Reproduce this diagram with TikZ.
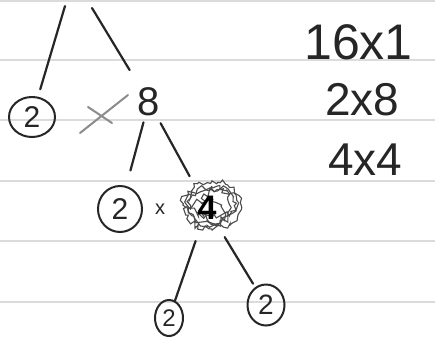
\documentclass[tikz,border=0pt]{standalone}
\usepackage{fontspec}
\setmainfont{Liberation Sans}
\usetikzlibrary{calc,shapes.geometric,decorations.pathmorphing}
\begin{document}
\begin{tikzpicture}[x=1pt,y=-1pt,
  pen/.style={line width=2.2pt,black!85,line cap=round},
  ruled/.style={line width=1.2pt,black!14},
  circled/.style={ellipse,draw,line width=2pt,black!85,inner sep=0pt,minimum width=46pt,minimum height=40pt,font=\fontsize{30}{30}\selectfont},
  num/.style={inner sep=0pt,font=\fontsize{40}{40}\selectfont,text=black!85},
  side/.style={inner sep=0pt,anchor=west,text=black!85},
  scrib/.style={line width=1.1pt,black!70,decoration={random steps,segment length=#1,amplitude=#1},decorate}]
\useasboundingbox (0,0) rectangle (435,338);
\fill[white] (0,0) rectangle (435,338);
% ruled paper lines
\foreach \yy in {1,60,120,181,241,302}
  \draw[ruled] (0,\yy) -- (435,\yy);
% nodes
\coordinate (t1) at (65,6);
\coordinate (t2) at (92,8);
\coordinate (s4) at (207,208);
\node[circled] (c1) at (32,117) {2};
\node[num] (n8) at (149,102) {8};
\node[circled,minimum width=44pt,minimum height=46pt] (c2) at (120,209) {2};
\node[inner sep=0pt,font=\fontsize{20}{20}\selectfont,text=black!85] (x2) at (160,209) {x};
% scribble over the 4
\pgfmathsetseed{7}
\draw[scrib=3pt] ($(s4)+(5,-3)$) ellipse (29pt and 24pt);
\draw[scrib=4pt] ($(s4)+(4,-2)$) ellipse (23pt and 18pt);
\draw[scrib=3pt] ($(s4)+(6,-6)$) ellipse (25pt and 14pt);
\draw[scrib=4pt] ($(s4)+(0,5)$) ellipse (18pt and 12pt);
\draw[scrib=3pt] ($(s4)+(10,-1)$) ellipse (14pt and 17pt);
\node[num,font=\bfseries\fontsize{34}{34}\selectfont,text=black] (n4) at (s4) {4};
\node[circled,minimum width=28pt,minimum height=36pt,font=\fontsize{24}{24}\selectfont] (c3) at (169,318) {2};
\node[circled,minimum width=37pt,minimum height=41pt,font=\fontsize{28}{28}\selectfont] (c4) at (266,305) {2};
% gray cross
\node[inner sep=0pt] (gx) at (104,114) {};
\draw[line width=2pt,black!45,line cap=round] ($(gx)+(-24,19)$) -- ($(gx)+(24,-19)$);
\draw[line width=2pt,black!45,line cap=round] ($(gx)+(-16,-7)$) -- ($(gx)+(8,9)$);
% connectors
\draw[pen] (t1) -- ($(t1)!0.75!(c1)$);
\draw[pen] (t2) -- ($(t2)!0.66!(n8)$);
\draw[pen] ($(n8)!0.19!(c2)$) -- ($(n8)!0.64!(c2)$);
\draw[pen] ($(n8)!0.2!(n4)$) -- ($(n8)!0.7!(n4)$);
\draw[pen] ($(n4)!0.3!(c3)$) -- ($(n4)!0.84!(c3)$);
\draw[pen] ($(n4)!0.3!(c4)$) -- ($(n4)!0.78!(c4)$);
% side list
\node[side,font=\fontsize{50}{50}\selectfont] (l1) at (304,42) {16x1};
\node[side,font=\fontsize{46}{46}\selectfont] (l2) at (325,100) {2x8};
\node[side,font=\fontsize{46}{46}\selectfont] (l3) at (328,160) {4x4};
\end{tikzpicture}
\end{document}
